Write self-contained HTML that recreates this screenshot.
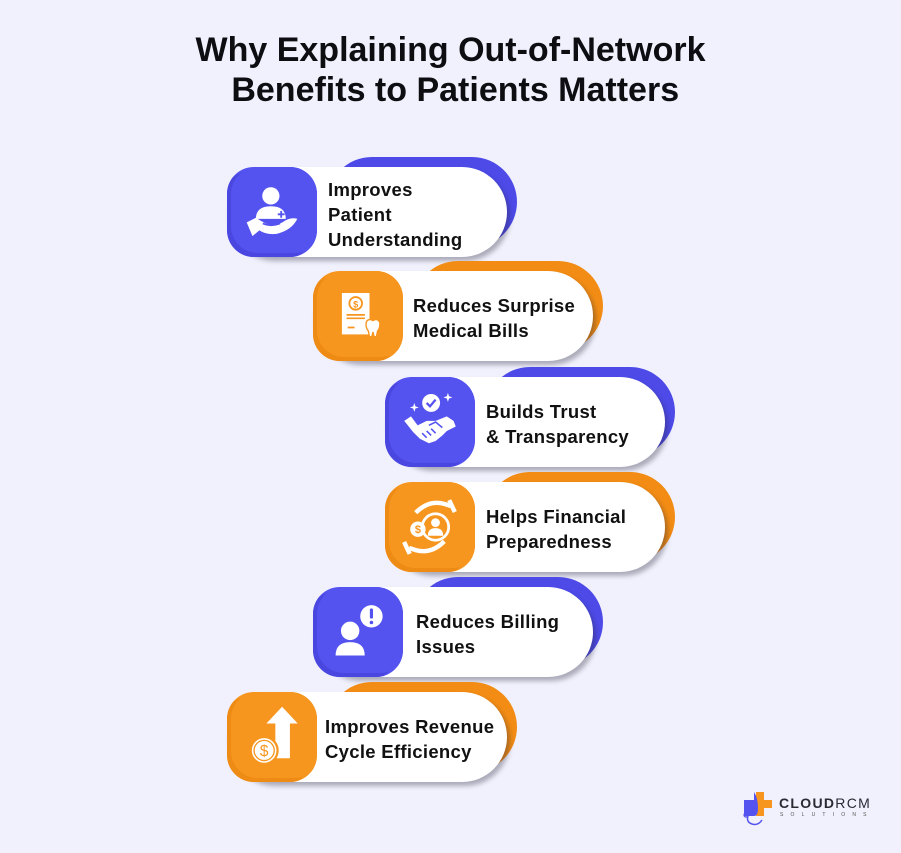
<!DOCTYPE html>
<html><head><meta charset="utf-8"><style>
*{margin:0;padding:0;box-sizing:border-box}
body{width:901px;height:853px;background:#F1F1FD;position:relative;overflow:hidden;font-family:"Liberation Sans",sans-serif}
.title{position:absolute;left:0;width:901px;top:30px;text-align:center;font-weight:bold;font-size:34px;line-height:40px;color:#0d0d12}
.back{position:absolute;width:190px;height:90px;border-radius:45px}
.pill{position:absolute;width:280px;height:90px;border-radius:45px;background:#fff;box-shadow:3px 4px 5px rgba(40,40,60,0.35)}
.ic{position:absolute;width:90px;height:90px;border-radius:27px;overflow:hidden}
.ic .sh{position:absolute;left:-6px;top:4px;width:90px;height:90px;border-radius:30px;}
.ic svg{position:absolute;left:0;top:0}
.txt{position:absolute;height:90px;display:flex;flex-direction:column;justify-content:center;padding-top:4px;font-weight:bold;font-size:18.5px;line-height:25px;letter-spacing:0.3px;color:#111}
.p{background:#5553F0}.o{background:#F7961F}
.p .sh{background:#4B48E2}.o .sh{background:#EE8B15}
.pc{background:#4d4ae8}.oc{background:#F28C14}
</style></head><body>
<div class="title">Why Explaining Out-of-Network<br>&nbsp;Benefits to Patients Matters</div>

<!-- Card 1 -->
<div class="back pc" style="left:327px;top:157px"></div>
<div class="pill" style="left:227px;top:167px"></div>
<div class="ic p" style="left:227px;top:167px"><div class="sh" style="background:#4A47E0"></div><div style="position:absolute;left:4px;top:0;width:90px;height:86px;border-radius:27px;background:#5553F0"></div>
<svg width="90" height="90" viewBox="0 0 90 90"><g transform="translate(45 45) scale(1.15) translate(-45 -45)"><circle cx="44" cy="31" r="7.5" fill="#fff"/><path d="M31 51 Q31 40 44 40 Q57 40 57 51 Z" fill="#fff"/><path d="M53 44 v6 M50 47 h6" stroke="#5553F0" stroke-width="1.6"/><path d="M23 54 L31 50 L36 53 Q45 59 54 54 Q61 49 67 51 Q62 61 49 64 Q40 65 34 61 L28 66 Z" fill="#fff"/><path d="M37 55 Q44 58 52 55" stroke="#5553F0" stroke-width="1.5" fill="none"/></g></svg></div>
<div class="txt" style="left:328px;top:167px">Improves<br>Patient<br>Understanding</div>

<!-- Card 2 -->
<div class="back oc" style="left:413px;top:261px"></div>
<div class="pill" style="left:313px;top:271px"></div>
<div class="ic o" style="left:313px;top:271px"><div class="sh"></div><div style="position:absolute;left:4px;top:0;width:90px;height:86px;border-radius:27px;background:#F7961F"></div>
<svg width="90" height="90" viewBox="0 0 90 90"><g transform="translate(45 45) scale(1.15) translate(-45 -45)"><rect x="31" y="25" width="24" height="36" fill="#fff"/><circle cx="43" cy="34" r="5.5" fill="none" stroke="#F7961F" stroke-width="1.6"/><text x="43" y="37.5" font-size="8" font-weight="bold" text-anchor="middle" fill="#F7961F" font-family="Liberation Sans">$</text><path d="M35 44 h16 M35 47 h16 M36 55 h6" stroke="#F7961F" stroke-width="1.5"/><path d="M52 52 Q52 48 56 48 L58 49 L60 48 Q64 48 64 52 Q64 56 62 58 L61 63 L59 63 L58 59 L57 63 L55 63 L54 58 Q52 56 52 52 Z" fill="#fff" stroke="#F7961F" stroke-width="1.2"/></g></svg></div>
<div class="txt" style="left:413px;top:271px">Reduces Surprise<br>Medical Bills</div>

<!-- Card 3 -->
<div class="back pc" style="left:485px;top:367px"></div>
<div class="pill" style="left:385px;top:377px"></div>
<div class="ic p" style="left:385px;top:377px"><div class="sh" style="background:#4A47E0"></div><div style="position:absolute;left:4px;top:0;width:90px;height:86px;border-radius:27px;background:#5553F0"></div>
<svg width="90" height="90" viewBox="0 0 90 90"><g transform="translate(45 45) scale(1.12) translate(-45 -45)"><circle cx="46" cy="28" r="8" fill="#fff"/><path d="M42 28 l3 3 l5 -6" stroke="#5553F0" stroke-width="2" fill="none"/><path d="M31 28 l1 3 l3 1 l-3 1 l-1 3 l-1 -3 l-3 -1 l3 -1 Z M61 19 l1 3 l3 1 l-3 1 l-1 3 l-1 -3 l-3 -1 l3 -1 Z" fill="#fff"/><path d="M22 44 L28 40 L34 48 L42 44 L50 44 L60 40 L66 44 L68 49 L60 53 L56 57 L50 62 L44 64 L40 62 L36 60 L30 54 Z" fill="#fff"/><path d="M44 48 L50 45 L56 50 M38 55 l4 4 M42 53 l4 4 M46 51 l4 4" stroke="#5553F0" stroke-width="1.4" fill="none"/></g></svg></div>
<div class="txt" style="left:486px;top:377px">Builds Trust<br>&amp; Transparency</div>

<!-- Card 4 -->
<div class="back oc" style="left:485px;top:472px"></div>
<div class="pill" style="left:385px;top:482px"></div>
<div class="ic o" style="left:385px;top:482px"><div class="sh"></div><div style="position:absolute;left:4px;top:0;width:90px;height:86px;border-radius:27px;background:#F7961F"></div>
<svg width="90" height="90" viewBox="0 0 90 90"><g transform="translate(45 45) scale(1.1) translate(-45 -45)"><path d="M32 32 Q44 20 58 24 L64 26" stroke="#fff" stroke-width="4" fill="none"/><rect x="63" y="20" width="4" height="12" fill="#fff" transform="rotate(-25 65 26)"/><path d="M58 58 Q46 70 32 66 L26 64" stroke="#fff" stroke-width="4" fill="none"/><rect x="22" y="58" width="4" height="12" fill="#fff" transform="rotate(-25 24 64)"/><circle cx="50" cy="45" r="12" fill="none" stroke="#fff" stroke-width="2.5"/><circle cx="50" cy="41" r="4" fill="#fff"/><path d="M43 53 Q43 46 50 46 Q57 46 57 53 Z" fill="#fff"/><circle cx="34" cy="47" r="7" fill="#fff"/><text x="34" y="50.5" font-size="10" font-weight="bold" text-anchor="middle" fill="#F7961F" font-family="Liberation Sans">$</text></g></svg></div>
<div class="txt" style="left:486px;top:482px">Helps Financial<br>Preparedness</div>

<!-- Card 5 -->
<div class="back pc" style="left:413px;top:577px"></div>
<div class="pill" style="left:313px;top:587px"></div>
<div class="ic p" style="left:313px;top:587px"><div class="sh" style="background:#4A47E0"></div><div style="position:absolute;left:4px;top:0;width:90px;height:86px;border-radius:27px;background:#5553F0"></div>
<svg width="90" height="90" viewBox="0 0 90 90"><g transform="translate(45 45) scale(1.12) translate(-45 -45)"><circle cx="38" cy="44" r="9" fill="#fff" stroke="#5553F0" stroke-width="1.5"/><path d="M25 66 Q25 54 38 54 Q51 54 51 66 Z" fill="#fff"/><circle cx="57" cy="31" r="10" fill="#fff"/><rect x="55.6" y="24" width="2.8" height="9" rx="1" fill="#5553F0"/><circle cx="57" cy="36.5" r="1.6" fill="#5553F0"/></g></svg></div>
<div class="txt" style="left:416px;top:587px">Reduces Billing<br>Issues</div>

<!-- Card 6 -->
<div class="back oc" style="left:327px;top:682px"></div>
<div class="pill" style="left:227px;top:692px"></div>
<div class="ic o" style="left:227px;top:692px"><div class="sh"></div><div style="position:absolute;left:4px;top:0;width:90px;height:86px;border-radius:27px;background:#F7961F"></div>
<svg width="90" height="90" viewBox="0 0 90 90"><g transform="translate(45 45) scale(1.12) translate(-45 -45)"><path d="M54 18 L68 33 L61 33 L61 64 L48 64 L48 33 L40 33 Z" fill="#fff"/><circle cx="38" cy="57" r="12" fill="#fff" stroke="#F7961F" stroke-width="2"/><circle cx="38" cy="57" r="9" fill="none" stroke="#F7961F" stroke-width="1.2"/><text x="38" y="62" font-size="14" text-anchor="middle" fill="#F7961F" font-family="Liberation Sans">$</text></g></svg></div>
<div class="txt" style="left:325px;top:692px">Improves Revenue<br>Cycle Efficiency</div>

<!-- Logo -->
<svg style="position:absolute;left:738px;top:786px" width="45" height="42" viewBox="0 0 45 42">
<path d="M15 6 h8 v8 h8 v8 h-8 v8 h-8 v-8 h-8 v-8 h8 Z" fill="#F7961F" transform="translate(3,0)"/>
<path d="M6 14 h10 v-8 q4 6 4 16 q0 8 -4 8 h-10 Z" fill="#5553F0"/>
<path d="M10 30 q-2 6 4 8 q6 2 10 -4" stroke="#5553F0" stroke-width="1.5" fill="none"/>
<circle cx="8" cy="29" r="2" fill="none" stroke="#5553F0" stroke-width="1.2"/>
</svg>
<div style="position:absolute;left:779px;top:796px;font-size:14px;font-weight:bold;letter-spacing:1.3px;color:#2a2a33;line-height:15px">CLOUD<span style="font-weight:normal">RCM</span></div>
<div style="position:absolute;left:780px;top:812px;font-size:5px;letter-spacing:7.2px;color:#555;line-height:6px">SOLUTIONS</div>
</body></html>
